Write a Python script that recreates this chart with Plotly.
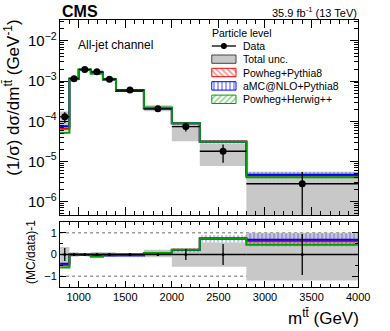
import plotly.graph_objects as go

# ---------------- data ----------------
edges = [800, 900, 1000, 1130, 1260, 1400, 1700, 2000, 2300, 2800, 4000]
data = [1.3e-4, 1.15e-3, 1.95e-3, 1.7e-3, 1.12e-3, 6.0e-4, 2.05e-4, 7.4e-5, 1.8e-5, 2.8e-6]
data_stat_up = [0.30, 0.03, 0.03, 0.03, 0.03, 0.03, 0.05, 0.25, 0.48, 0.95]
data_stat_dn = [0.30, 0.03, 0.03, 0.03, 0.03, 0.03, 0.05, 0.25, 0.48, 0.95]
tot_unc_up = [0.35, 0.10, 0.06, 0.12, 0.10, 0.06, 0.22, 0.25, 0.55, 1.00]
tot_unc_dn = [0.55, 0.10, 0.06, 0.12, 0.10, 0.06, 0.13, 0.57, 0.57, 1.20]

powheg_py8 = [6.5e-5, 1.15e-3, 1.91e-3, 1.65e-3, 1.12e-3, 6.0e-4, 2.15e-4, 9.0e-5, 3.15e-5, 4.5e-6]
amcnlo_py8 = [7.5e-5, 1.15e-3, 1.89e-3, 1.62e-3, 1.09e-3, 5.7e-4, 2.09e-4, 8.9e-5, 3.1e-5, 4.7e-6]
powheg_hw = [5.2e-5, 1.15e-3, 1.95e-3, 1.53e-3, 1.12e-3, 6.0e-4, 2.2e-4, 9.0e-5, 3.1e-5, 4.05e-6]
powheg_py8_unc = [0.04, 0.02, 0.02, 0.02, 0.02, 0.03, 0.03, 0.04, 0.05, 0.06]
amcnlo_py8_unc = [0.06, 0.03, 0.03, 0.03, 0.03, 0.04, 0.05, 0.08, 0.10, 0.18]
powheg_hw_unc = [0.04, 0.02, 0.02, 0.02, 0.02, 0.03, 0.03, 0.04, 0.05, 0.05]

model_names = ["Powheg+Pythia8", "aMC@NLO+Pythia8", "Powheg+Herwig++"]
model_colors = ["#ff0000", "#0000ff", "#00a000"]
model_patterns = ["\\", "|", "/"]

FONT = "Liberation Sans, Arial, Helvetica, sans-serif"
W, H = 390, 331
GRAY = "#c8c8c8"

centers = [(edges[i] + edges[i + 1]) / 2 for i in range(len(data))]
halfw = [(edges[i + 1] - edges[i]) / 2 for i in range(len(data))]


def step(vals):
    xs, ys = [], []
    for i, v in enumerate(vals):
        xs += [edges[i], edges[i + 1]]
        ys += [v, v]
    return xs, ys


def band(lo, hi):
    xs, yh = step(hi)
    xl, yl = step(lo)
    return xs + xl[::-1] + [xs[0]], yh + yl[::-1] + [yh[0]]


def boxes(lo, hi):
    xs, ys = [], []
    for i in range(len(lo)):
        a, b = edges[i], edges[i + 1]
        xs += [a, b, b, a, a, None]
        ys += [lo[i], lo[i], hi[i], hi[i], lo[i], None]
    return xs, ys


def pattern(shape, color, sol=0.22):
    return dict(shape=shape, fgcolor=color, bgcolor="rgba(0,0,0,0)", size=4, solidity=sol,
                fillmode="overlay")


fig = go.Figure()

# ---------------- top panel ----------------
lo = [max(d * (1 - u), 1e-9) for d, u in zip(data, tot_unc_dn)]
hi = [d * (1 + u) for d, u in zip(data, tot_unc_up)]
bx, by = boxes(lo, hi)
fig.add_trace(go.Scatter(x=bx, y=by, fill="toself", fillcolor=GRAY, line=dict(width=0),
                         mode="lines", xaxis="x", yaxis="y", hoverinfo="skip"))

models = [powheg_py8, amcnlo_py8, powheg_hw]
uncs = [powheg_py8_unc, amcnlo_py8_unc, powheg_hw_unc]
for m, u, c, p in zip(models, uncs, model_colors, model_patterns):
    px, py = band([v * (1 - e) for v, e in zip(m, u)], [v * (1 + e) for v, e in zip(m, u)])
    fig.add_trace(go.Scatter(x=px, y=py, fill="toself", mode="lines", line=dict(width=0),
                             fillcolor="rgba(0,0,0,0)", fillpattern=pattern(p, c),
                             xaxis="x", yaxis="y", hoverinfo="skip"))
for m, c in zip(models, model_colors):
    sx, sy = step(m)
    fig.add_trace(go.Scatter(x=sx, y=sy, mode="lines", line=dict(color=c, width=2),
                             xaxis="x", yaxis="y", hoverinfo="skip"))

fig.add_trace(go.Scatter(
    x=centers, y=data, mode="markers", marker=dict(color="black", size=7),
    error_y=dict(type="data", array=[d * u for d, u in zip(data, data_stat_up)],
                 arrayminus=[d * u for d, u in zip(data, data_stat_dn)],
                 color="black", thickness=1.3, width=0),
    error_x=dict(type="data", array=halfw, color="black", thickness=1.3, width=0),
    xaxis="x", yaxis="y", hoverinfo="skip"))

# ---------------- ratio panel ----------------
rbx, rby = boxes([-u for u in tot_unc_dn], tot_unc_up)
fig.add_trace(go.Scatter(x=rbx, y=rby, fill="toself", fillcolor=GRAY, line=dict(width=0),
                         mode="lines", xaxis="x2", yaxis="y2", hoverinfo="skip"))
for m, u, c, p in zip(models, uncs, model_colors, model_patterns):
    rlo = [v * (1 - e) / d - 1 for v, e, d in zip(m, u, data)]
    rhi = [v * (1 + e) / d - 1 for v, e, d in zip(m, u, data)]
    px, py = band(rlo, rhi)
    fig.add_trace(go.Scatter(x=px, y=py, fill="toself", mode="lines", line=dict(width=0),
                             fillcolor="rgba(0,0,0,0)", fillpattern=pattern(p, c),
                             xaxis="x2", yaxis="y2", hoverinfo="skip"))
for m, c in zip(models, model_colors):
    sx, sy = step([v / d - 1 for v, d in zip(m, data)])
    fig.add_trace(go.Scatter(x=sx, y=sy, mode="lines", line=dict(color=c, width=2),
                             xaxis="x2", yaxis="y2", hoverinfo="skip"))
fig.add_trace(go.Scatter(
    x=centers, y=[0] * len(data), mode="markers", marker=dict(color="black", size=3),
    error_y=dict(type="data", array=data_stat_up, arrayminus=data_stat_dn,
                 color="black", thickness=1.3, width=0),
    error_x=dict(type="data", array=halfw, color="black", thickness=1.3, width=0),
    xaxis="x2", yaxis="y2", hoverinfo="skip"))

# ---------------- legend (pixel overlay axes) ----------------
LX0, LX1 = 218.5, 243.5
fig.add_trace(go.Scatter(x=[LX0, LX1], y=[46, 46], mode="lines", line=dict(color="black", width=1.3),
                         xaxis="x3", yaxis="y3", hoverinfo="skip"))
fig.add_trace(go.Scatter(x=[(LX0 + LX1) / 2] * 2, y=[43, 49], mode="lines",
                         line=dict(color="black", width=1.3), xaxis="x3", yaxis="y3", hoverinfo="skip"))
fig.add_trace(go.Scatter(x=[(LX0 + LX1) / 2], y=[46], mode="markers", marker=dict(color="black", size=6),
                         xaxis="x3", yaxis="y3", hoverinfo="skip"))
fig.add_trace(go.Scatter(x=[LX0, LX1, LX1, LX0, LX0], y=[55, 55, 63.3, 63.3, 55], fill="toself",
                         fillcolor=GRAY, mode="lines", line=dict(color="#444444", width=1),
                         xaxis="x3", yaxis="y3", hoverinfo="skip"))
for k, (c, p) in enumerate(zip(model_colors, model_patterns)):
    y0 = 68.3 + k * 13.4
    y1 = y0 + 8.4
    fig.add_trace(go.Scatter(x=[LX0, LX1, LX1, LX0, LX0], y=[y0, y0, y1, y1, y0], fill="toself",
                             fillcolor="rgba(0,0,0,0)", mode="lines", line=dict(color=c, width=1),
                             fillpattern=pattern(p, c, 0.35),
                             xaxis="x3", yaxis="y3", hoverinfo="skip"))

# ---------------- layout ----------------
XD = [62 / W, 369.5 / W]
YTOP = [1 - 215 / H, 1 - 20 / H]
YBOT = [1 - 287 / H, 1 - 222 / H]

common_x = dict(range=[800, 4000], showgrid=False, zeroline=False, showline=True, linecolor="black",
                linewidth=1, mirror="allticks", ticks="inside", tickcolor="black", tickwidth=1,
                tick0=0, dtick=500)


def P(x, y):
    return x / W, 1 - y / H


annotations = []


def text(x, y, s, size=11, anchor="left", bold=False, angle=0, yanchor="middle"):
    ax, ay = P(x, y)
    annotations.append(dict(x=ax, y=ay, xref="paper", yref="paper", text=s, showarrow=False,
                            xanchor=anchor, yanchor=yanchor, textangle=angle,
                            font=dict(family=FONT, size=size, color="black",
                                      weight="bold" if bold else "normal")))


text(62, 11, "CMS", size=16, bold=True)
text(370, 12.5, "35.9 fb<sup>-1</sup> (13 TeV)", size=11, anchor="right")
text(78, 45, "All-jet channel", size=12)
text(217, 33, "Particle level", size=10.5)
leg_labels = ["Data", "Total unc."] + model_names
for k, s in enumerate(leg_labels):
    text(249, 46 + k * 13.3, s, size=10.5)
text(372, 317, "m<sup>tt\u0304</sup> (GeV)", size=17, anchor="right")
text(12, 18, "(1/\u03c3) d\u03c3/dm<sup>tt\u0304</sup> (GeV<sup>-1</sup>)", size=17, anchor="center",
     angle=-90, yanchor="top")
text(32, 252, "(MC/data)-1", size=12, anchor="center", angle=-90)

fig.update_layout(
    width=W, height=H, autosize=False, margin=dict(l=0, r=0, t=0, b=0),
    paper_bgcolor="white", plot_bgcolor="rgba(0,0,0,0)", showlegend=False,
    font=dict(family=FONT, size=12, color="black"), hovermode=False,
    xaxis=dict(domain=XD, anchor="y", showticklabels=False, ticklen=8,
               minor=dict(ticks="inside", ticklen=4, dtick=100, tickcolor="black"), **common_x),
    yaxis=dict(domain=YTOP, anchor="x", type="log", range=[-6.33, -1.48], showgrid=False,
               zeroline=False, showline=True, linecolor="black", linewidth=1, mirror="allticks",
               ticks="inside", ticklen=8, tickcolor="black", dtick=1, exponentformat="power",
               minor=dict(ticks="inside", ticklen=4, tickcolor="black"),
               tickfont=dict(size=12)),
    xaxis2=dict(domain=XD, anchor="y2", showticklabels=True, ticklen=6,
                minor=dict(ticks="inside", ticklen=3, dtick=100, tickcolor="black"),
                tickfont=dict(size=11), **common_x),
    yaxis2=dict(domain=YBOT, anchor="x2", range=[-1.5, 1.5], showgrid=False, zeroline=False,
                showline=True, linecolor="black", linewidth=1, mirror="allticks", ticks="inside",
                ticklen=6, tickcolor="black", tickvals=[-1, 0, 1], ticktext=["\u22121", "0", "1"],
                minor=dict(ticks="inside", ticklen=3, tickcolor="black", dtick=0.5, tick0=0),
                tickfont=dict(size=11)),
    xaxis3=dict(domain=[0, 1], range=[0, W], visible=False, anchor="y3", fixedrange=True),
    yaxis3=dict(domain=[0, 1], range=[H, 0], visible=False, anchor="x3", fixedrange=True),
    annotations=annotations,
    shapes=[dict(type="line", xref="x2", yref="y2", x0=800, x1=4000, y0=v, y1=v,
                 line=dict(color="#999999", width=1.5, dash="dot"), layer="below") for v in (1, -1)],
)

fig.write_html("out.html", config={"displayModeBar": False, "responsive": False},
               post_script="document.body.style.margin='0';document.body.style.overflow='hidden';")
